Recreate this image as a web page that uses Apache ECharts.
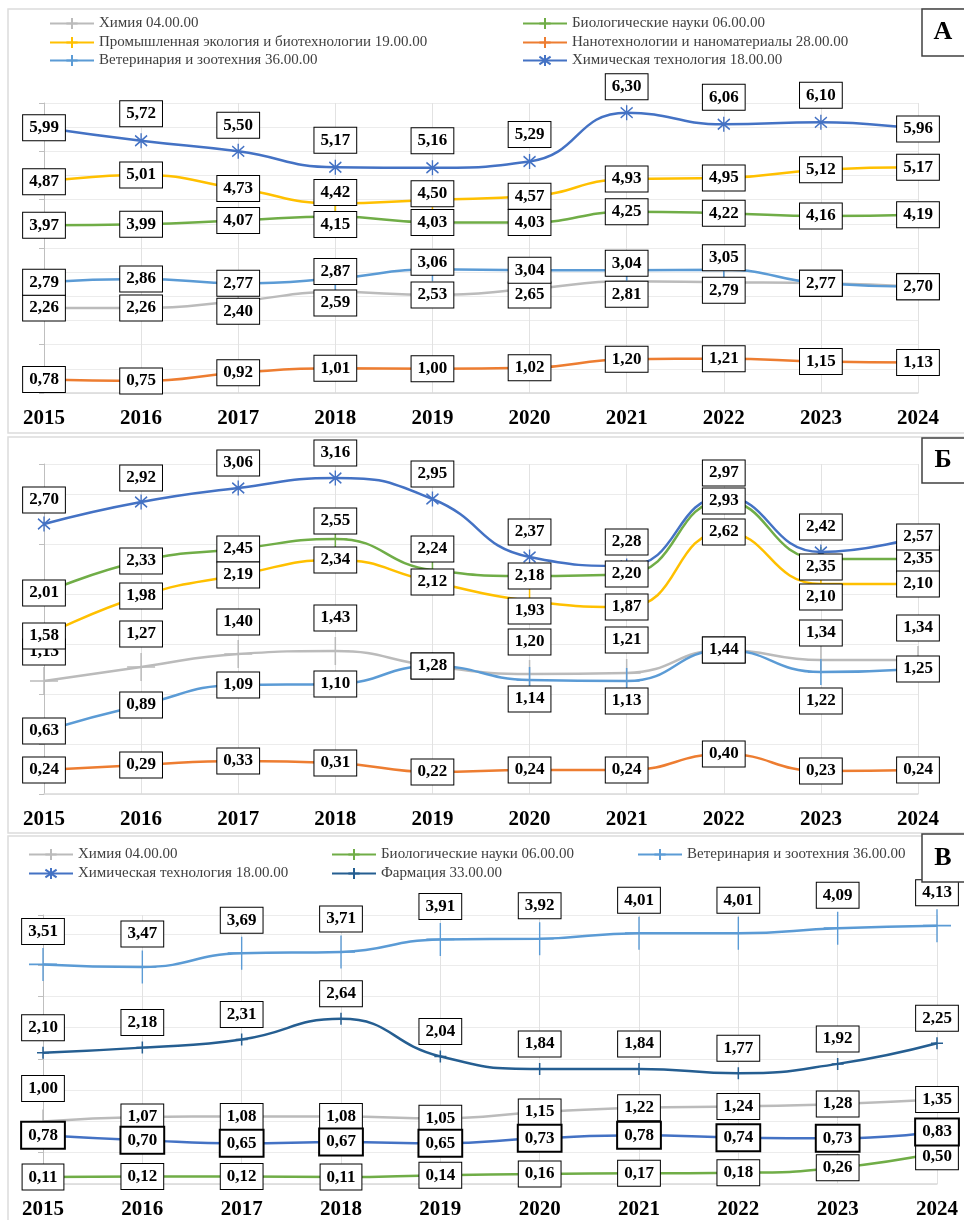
<!DOCTYPE html>
<html>

<head>
    <meta charset="utf-8">
    <script type="text/javascript" src="https://cdn.jsdelivr.net/npm/echarts@6/dist/echarts.min.js"></script>
    <style>
        html, body {
            margin: 0;
            padding: 0;
            background: #fff;
        }

        #container {
            width: 964px;
            height: 1220px;
        }
    </style>
</head>

<body>
    <div id="container"></div>
</body>
<script type="text/javascript">
    var years = ['2015', '2016', '2017', '2018', '2019', '2020', '2021', '2022', '2023', '2024'];

    var nChem = 'Химия 04.00.00';
    var nBio = 'Биологические науки 06.00.00';
    var nEco = 'Промышленная экология и биотехнологии 19.00.00';
    var nNano = 'Нанотехнологии и наноматериалы 28.00.00';
    var nVet = 'Ветеринария и зоотехния 36.00.00';
    var nTech = 'Химическая технология 18.00.00';
    var nPharm = 'Фармация 33.00.00';

    // панель А
    var aChem = [2.26, 2.26, 2.40, 2.59, 2.53, 2.65, 2.81, 2.79, 2.77, 2.70];
    var aBio = [3.97, 3.99, 4.07, 4.15, 4.03, 4.03, 4.25, 4.22, 4.16, 4.19];
    var aEco = [4.87, 5.01, 4.73, 4.42, 4.50, 4.57, 4.93, 4.95, 5.12, 5.17];
    var aNano = [0.78, 0.75, 0.92, 1.01, 1.00, 1.02, 1.20, 1.21, 1.15, 1.13];
    var aVet = [2.79, 2.86, 2.77, 2.87, 3.06, 3.04, 3.04, 3.05, 2.77, 2.70];
    var aTech = [5.99, 5.72, 5.50, 5.17, 5.16, 5.29, 6.30, 6.06, 6.10, 5.96];

    // панель Б
    var bChem = [1.13, 1.27, 1.40, 1.43, 1.28, 1.20, 1.21, 1.44, 1.34, 1.34];
    var bBio = [2.01, 2.33, 2.45, 2.55, 2.24, 2.18, 2.20, 2.93, 2.35, 2.35];
    var bEco = [1.58, 1.98, 2.19, 2.34, 2.12, 1.93, 1.87, 2.62, 2.10, 2.10];
    var bNano = [0.24, 0.29, 0.33, 0.31, 0.22, 0.24, 0.24, 0.40, 0.23, 0.24];
    var bVet = [0.63, 0.89, 1.09, 1.10, 1.28, 1.14, 1.13, 1.44, 1.22, 1.25];
    var bTech = [2.70, 2.92, 3.06, 3.16, 2.95, 2.37, 2.28, 2.97, 2.42, 2.57];

    // панель В
    var cChem = [1.00, 1.07, 1.08, 1.08, 1.05, 1.15, 1.22, 1.24, 1.28, 1.35];
    var cBio = [0.11, 0.12, 0.12, 0.11, 0.14, 0.16, 0.17, 0.18, 0.26, 0.50];
    var cVet = [3.51, 3.47, 3.69, 3.71, 3.91, 3.92, 4.01, 4.01, 4.09, 4.13];
    var cTech = [0.78, 0.70, 0.65, 0.67, 0.65, 0.73, 0.78, 0.74, 0.73, 0.83];
    var cPharm = [2.10, 2.18, 2.31, 2.64, 2.04, 1.84, 1.84, 1.77, 1.92, 2.25];

    // сдвиг подписей по вертикали (px)
    var aTechDy = [0, -27, -26, -27, -27, -27, -26, -27, -27, 0];
    var aEcoDy = [0, 0, 0, -11, -6, 0, 0, 0, 0, 0];
    var aBioDy = [0, 0, 0, 8, 0, 0, 0, 0, 0, 0];
    var aVetDy = [0, 0, 0, -7, -7, 0, -7, -12, 0, 0];
    var aChemDy = [0, 0, 10, 11, 0, 6, 13, 8, 0, 0];
    var bTechDy = [-24, -24, -25, -25, -25, -25, -24, -24, -25, 0];
    var bBioDy = [0, 0, 0, -18, -21, 0, 0, 0, 8, 0];
    var bEcoDy = [0, 0, 0, 0, 0, 10, 0, 0, 13, 0];
    var bChemDy = [-29, -33, -32, -33, 0, -32, -33, 0, -27, -32];
    var bVetDy = [0, 0, 0, 0, 0, 19, 20, 0, 29, 0];
    var cVetDy = [-33, -33, -33, -33, -33, -33, -33, -33, -33, -33];
    var cPharmDy = [-25, -25, -25, -25, -25, -25, -25, -25, -25, -25];
    var cChemDy = [-33, 0, 0, 0, 0, 0, 0, 0, 0, 0];
    var cBioDy = [0, 0, 0, 0, 0, 0, 0, 0, 0, 4];

    var serif = 'Liberation Serif';
    var plus = 'path://M0,-10L0,10M-10,0L10,0';
    var star = 'path://M0,-10L0,10M-7,-7L7,7M-7,7L7,-7';

    var cChemC = '#BBBBBB', cBioC = '#70AD47', cEcoC = '#FFC000', cNanoC = '#ED7D31',
        cVetC = '#5B9BD5', cTechC = '#4472C4', cPharmC = '#255E91';

    createEcharts();

    //одна линия
    function mk(name, color, values, dy, idx, symbol, size, bw) {
        var data = values.map(function (v, i) {
            return {
                value: v,
                label: { offset: [0, dy ? dy[i] : 0] }
            };
        });
        return {
            name: name,
            type: 'line',
            xAxisIndex: idx,
            yAxisIndex: idx,
            smooth: true,
            symbol: symbol,
            symbolSize: size,
            showAllSymbol: true,
            lineStyle: { color: color, width: 2.5 },
            itemStyle: { color: color, borderColor: color, borderWidth: 1.5 },
            label: {
                show: true,
                position: 'inside',
                formatter: function (p) {
                    return p.value.toFixed(2).replace('.', ',');
                },
                fontFamily: serif,
                fontSize: 17,
                fontWeight: 'bold',
                lineHeight: 17,
                color: '#000',
                backgroundColor: '#fff',
                borderColor: '#000',
                borderWidth: bw || 1,
                padding: [4, 6, 4, 6]
            },
            emphasis: { disabled: true },
            data: data
        };
    }

    function createEcharts() {
        var dom = document.getElementById('container');
        var myChart = echarts.init(dom);

        var grids = [
            { left: 44, top: 103, width: 874, height: 290 },
            { left: 44, top: 464, width: 874, height: 330 },
            { left: 43, top: 915, width: 894, height: 270 }
        ];
        var ranges = [[0.5, 6.5], [0, 3.3], [0, 4.3]];

        var xAxes = [], yAxes = [];
        grids.forEach(function (g, i) {
            xAxes.push({
                type: 'category',
                gridIndex: i,
                data: years,
                boundaryGap: false,
                axisLine: { lineStyle: { color: '#d9d9d9', width: 1.5 } },
                axisTick: { show: false },
                axisLabel: {
                    fontFamily: serif,
                    fontSize: 21,
                    fontWeight: 'bold',
                    color: '#000',
                    margin: 15
                },
                splitLine: { show: true, lineStyle: { color: '#e2e2e2' } }
            });
            yAxes.push({
                type: 'value',
                gridIndex: i,
                min: ranges[i][0],
                max: ranges[i][1],
                interval: 0.5,
                axisLabel: { show: false },
                axisLine: { show: true, lineStyle: { color: '#bfbfbf' } },
                axisTick: { show: true, length: 5, lineStyle: { color: '#bfbfbf' } },
                splitLine: { lineStyle: { color: '#ececec' } }
            });
        });

        var series = [
            mk(nChem, cChemC, aChem, aChemDy, 0, plus, 24),
            mk(nBio, cBioC, aBio, aBioDy, 0, plus, 24),
            mk(nEco, cEcoC, aEco, aEcoDy, 0, plus, 24),
            mk(nNano, cNanoC, aNano, null, 0, plus, 24),
            mk(nVet, cVetC, aVet, aVetDy, 0, plus, 24),
            mk(nTech, cTechC, aTech, aTechDy, 0, star, [12, 15]),

            mk(nChem, cChemC, bChem, bChemDy, 1, plus, 28),
            mk(nBio, cBioC, bBio, bBioDy, 1, plus, 24),
            mk(nEco, cEcoC, bEco, bEcoDy, 1, plus, 24),
            mk(nNano, cNanoC, bNano, null, 1, plus, 24),
            mk(nVet, cVetC, bVet, bVetDy, 1, plus, 26),
            mk(nTech, cTechC, bTech, bTechDy, 1, star, [12, 15]),

            mk(nChem, cChemC, cChem, cChemDy, 2, plus, 24),
            mk(nBio, cBioC, cBio, cBioDy, 2, plus, 24),
            mk(nVet, cVetC, cVet, cVetDy, 2, plus, [28, 33]),
            mk(nTech, cTechC, cTech, null, 2, star, [12, 15], 2),
            mk(nPharm, cPharmC, cPharm, cPharmDy, 2, plus, 12)
        ];

        //легенды: имя, x, центр y
        var legendItems = [
            [nChem, 49, 22], [nBio, 522, 22],
            [nEco, 49, 41], [nNano, 522, 41],
            [nVet, 49, 59], [nTech, 522, 59],
            [nChem, 28, 853], [nBio, 331, 853], [nVet, 637, 853],
            [nTech, 28, 872], [nPharm, 331, 872]
        ];
        var legends = legendItems.map(function (it) {
            return {
                data: [it[0]],
                left: it[1],
                top: it[2] - 6,
                padding: 0,
                itemWidth: 44,
                itemHeight: 14,
                selectedMode: false,
                textStyle: { fontFamily: serif, fontSize: 15, color: '#404040' }
            };
        });

        var graphic = [];
        [[9, 424], [437, 396], [836, 400]].forEach(function (p) {
            graphic.push({
                type: 'rect',
                shape: { x: 8, y: p[0], width: 970, height: p[1] },
                style: { fill: 'none', stroke: '#dcdcdc', lineWidth: 1.5 },
                z: -1
            });
        });
        [['А', 9, 47], ['Б', 438, 45], ['В', 834, 48]].forEach(function (p) {
            graphic.push({
                type: 'rect',
                shape: { x: 922, y: p[1], width: 50, height: p[2] },
                style: { fill: '#fff', stroke: '#404040', lineWidth: 1.5 },
                z: 10
            });
            graphic.push({
                type: 'text',
                x: 943,
                y: p[1] + p[2] / 2,
                style: {
                    text: p[0],
                    font: 'bold 26px "Liberation Serif"',
                    fill: '#000',
                    align: 'center',
                    verticalAlign: 'middle'
                },
                z: 11
            });
        });

        var option = {
            backgroundColor: '#fff',
            animation: false,
            grid: grids,
            xAxis: xAxes,
            yAxis: yAxes,
            legend: legends,
            graphic: graphic,
            series: series
        };
        myChart.setOption(option, true);
    }
</script>

</html>
